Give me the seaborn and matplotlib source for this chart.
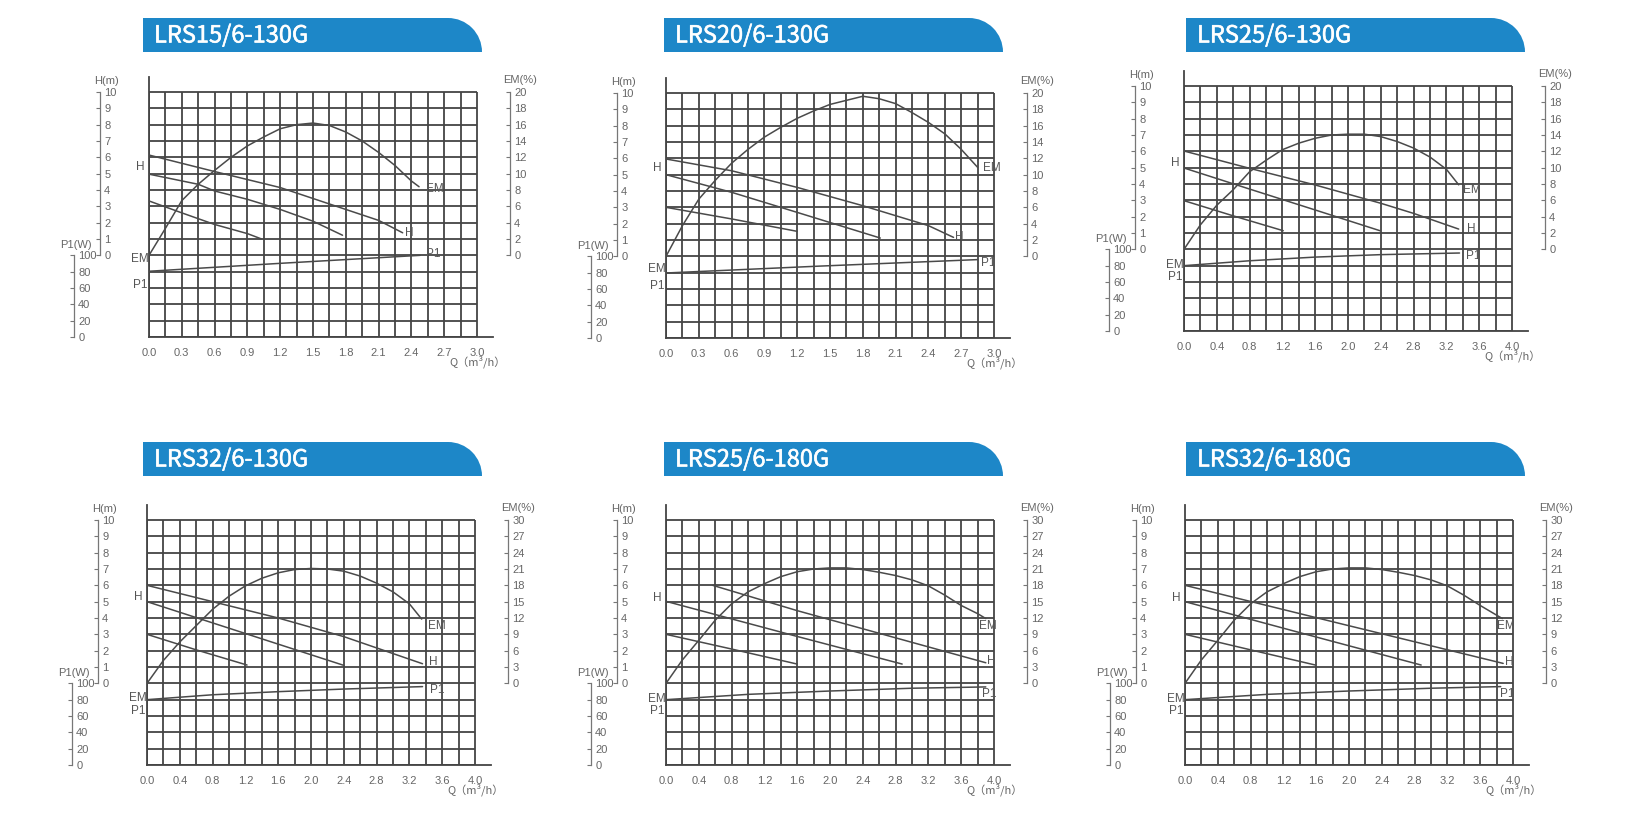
import matplotlib
matplotlib.use("Agg")
import matplotlib.pyplot as plt
import matplotlib.patheffects as pe
from matplotlib.patches import Rectangle, Wedge
import pandas as pd
import seaborn as sns

sns.set_style("white")
plt.rcParams['font.family'] = ['Liberation Sans', 'DejaVu Sans']

# ---------------- data ----------------
titles = ["LRS15/6-130G", "LRS20/6-130G", "LRS25/6-130G",
          "LRS32/6-130G", "LRS25/6-180G", "LRS32/6-180G"]
q_max = [3.0, 3.0, 4.0, 4.0, 4.0, 4.0]
em_max = [20, 20, 20, 30, 30, 30]

# LRS15/6-130G
lrs15_h = [([0, 0.6, 1.2, 1.8, 2.1, 2.32], [6.14, 5.13, 4.15, 2.81, 2.14, 1.38]),
           ([0, 0.45, 0.6, 0.9, 1.2, 1.5, 1.77], [4.97, 4.35, 3.94, 3.43, 2.81, 2.09, 1.23]),
           ([0, 0.3, 0.6, 0.9, 1.03], [3.33, 2.6, 1.89, 1.33, 1.0])]
lrs15_em_q = [0, 0.15, 0.3, 0.45, 0.6, 0.75, 0.9, 1.05, 1.2, 1.35, 1.5, 1.65,
              1.8, 1.95, 2.1, 2.25, 2.4, 2.47]
lrs15_em = [0, 3.3, 6.7, 8.7, 10.4, 12.0, 13.4, 14.5, 15.5, 16.0, 16.2, 15.9,
            15.1, 14.0, 12.6, 11.0, 9.1, 8.4]
lrs15_p1_q = [0, 1.2, 2.48]
lrs15_p1 = [80.5, 90.2, 100]

# LRS20/6-130G
lrs20_h = [([0, 0.6, 1.2, 1.8, 2.4, 2.63], [5.96, 5.24, 4.22, 3.1, 1.88, 1.16]),
           ([0, 0.6, 1.2, 1.96], [5.0, 3.92, 2.69, 1.12]),
           ([0, 0.6, 1.2], [3.0, 2.29, 1.53])]
lrs20_em_q = [0, 0.15, 0.3, 0.45, 0.6, 0.75, 0.9, 1.05, 1.2, 1.35, 1.5, 1.65,
              1.8, 1.95, 2.1, 2.25, 2.4, 2.55, 2.7, 2.85]
lrs20_em = [0, 3.75, 7.0, 9.3, 11.4, 13.1, 14.6, 15.8, 16.9, 17.8, 18.6, 19.1,
            19.6, 19.3, 18.7, 17.6, 16.4, 15.0, 13.1, 10.9]
lrs20_p1_q = [0, 1.4, 2.85]
lrs20_p1 = [79.6, 88, 96]

# LRS25/6-130G
lrs25_h = [([0, 0.8, 1.6, 2.4, 2.8, 3.35], [6.02, 4.96, 3.94, 2.82, 2.2, 1.24]),
           ([0, 0.8, 1.6, 2.39], [4.98, 3.69, 2.41, 1.14]),
           ([0, 0.6, 1.21], [2.98, 2.05, 1.14])]
lrs25_em_q = [0, 0.2, 0.4, 0.6, 0.8, 1.0, 1.2, 1.4, 1.6, 1.8, 2.0, 2.2,
              2.4, 2.6, 2.8, 3.0, 3.2, 3.35]
lrs25_em = [0, 3.0, 5.4, 7.3, 9.5, 10.9, 12.2, 13.0, 13.6, 14.0, 14.1, 14.1,
            13.8, 13.2, 12.4, 11.3, 9.8, 7.9]
lrs25_p1_q = [0, 0.8, 1.6, 2.4, 3.36]
lrs25_p1 = [80, 86, 90.5, 93.5, 95.5]

# LRS32/6-130G
lrs32_h = [([0, 0.8, 1.6, 2.4, 3.36], [6.0, 5.0, 4.0, 2.86, 1.2]),
           ([0, 0.8, 1.6, 2.4], [5.0, 3.7, 2.4, 1.1]),
           ([0, 0.6, 1.22], [3.0, 2.05, 1.12])]
lrs32_em_q = [0, 0.2, 0.4, 0.6, 0.8, 1.0, 1.2, 1.4, 1.6, 1.8, 2.0, 2.2,
              2.4, 2.6, 2.8, 3.0, 3.2, 3.35]
lrs32_em = [0, 4.2, 7.6, 10.6, 13.6, 16.0, 17.9, 19.3, 20.3, 20.9, 21.1, 21.0,
            20.6, 19.7, 18.4, 16.8, 14.6, 11.8]
lrs32_p1_q = [0, 0.8, 1.6, 2.4, 3.36]
lrs32_p1 = [80, 86, 89.8, 93, 96]

# LRS25/6-180G
lrs25b_h = [([0.57, 1.6, 3.9], [6.0, 4.45, 1.26]),
            ([0, 1.6, 2.88], [5.02, 2.87, 1.18]),
            ([0, 0.8, 1.6], [3.0, 2.1, 1.18])]
lrs25b_em_q = [0, 0.2, 0.4, 0.6, 0.8, 1.0, 1.2, 1.4, 1.6, 1.8, 2.0, 2.2,
               2.4, 2.6, 2.8, 3.0, 3.2, 3.4, 3.6, 3.8, 3.9]
lrs25b_em = [0, 4.3, 7.9, 11.6, 14.6, 16.8, 18.3, 19.6, 20.5, 21.0, 21.2, 21.2,
             20.9, 20.4, 19.8, 19.0, 17.9, 16.2, 14.3, 12.8, 11.9]
lrs25b_p1_q = [0, 1.0, 2.0, 3.0, 3.9]
lrs25b_p1 = [80, 86.5, 90.6, 94, 95.6]

# LRS32/6-180G
lrs32b_h = [([0, 1.94, 3.88], [6.0, 3.6, 1.22]),
            ([0, 1.44, 2.88], [5.0, 3.05, 1.12]),
            ([0, 0.8, 1.59], [3.0, 2.05, 1.12])]
lrs32b_em_q = [0, 0.2, 0.4, 0.6, 0.8, 1.0, 1.2, 1.4, 1.6, 1.8, 2.0, 2.2,
               2.4, 2.6, 2.8, 3.0, 3.2, 3.4, 3.6, 3.87]
lrs32b_em = [0, 4.3, 7.9, 11.6, 14.6, 16.8, 18.3, 19.6, 20.5, 21.0, 21.2, 21.2,
             20.9, 20.4, 19.8, 19.0, 17.9, 16.2, 14.3, 11.9]
lrs32b_p1_q = [0, 1.0, 2.0, 3.0, 3.85]
lrs32b_p1 = [80, 86.5, 90.6, 94, 96]

h_sets = [lrs15_h, lrs20_h, lrs25_h, lrs32_h, lrs25b_h, lrs32b_h]
em_sets = [(lrs15_em_q, lrs15_em), (lrs20_em_q, lrs20_em), (lrs25_em_q, lrs25_em),
           (lrs32_em_q, lrs32_em), (lrs25b_em_q, lrs25b_em), (lrs32b_em_q, lrs32b_em)]
p1_sets = [(lrs15_p1_q, lrs15_p1), (lrs20_p1_q, lrs20_p1), (lrs25_p1_q, lrs25_p1),
           (lrs32_p1_q, lrs32_p1), (lrs25b_p1_q, lrs25b_p1), (lrs32b_p1_q, lrs32b_p1)]

# ---------------- layout (pixels) ----------------
W, H = 1633, 817
grid_lt = [(149, 92), (666, 93), (1184, 86), (147, 520), (666, 520), (1185, 520)]
GW, GH = 328, 245
bars = [(143, 18), (664, 18), (1186, 18), (143, 442), (664, 442), (1186, 442)]
BW, BH = 339, 34
# y (in H rows) of left-side curve names: H, EM, P1
left_lbl_y = [(5.4, -0.2, -1.8), (5.4, -0.75, -1.8), (5.3, -0.95, -1.7),
              (5.3, -0.92, -1.67), (5.25, -0.94, -1.7), (5.25, -0.94, -1.7)]
# pixel offsets of right-side curve names from the curve ends
right_lbl_off = [
    {"EM": (7, -2), "H": (2, 0), "P1": (6, 1)},
    {"EM": (5, -1), "H": (1, 0), "P1": (3, -3)},
    {"EM": (4, -5), "H": (8, 0), "P1": (6, -3)},
    {"EM": (6, -7), "H": (6, 2), "P1": (7, -3)},
    {"EM": (-7, -7), "H": (1, 2), "P1": (-4, -7)},
    {"EM": (-5, -7), "H": (2, 1), "P1": (-1, -7)},
]

BLUE = "#1D87C8"
LINE = "#444444"
CURVE = "#4a4a4a"
TXT = "#666666"

fig = plt.figure(figsize=(W / 100, H / 100), dpi=100)


def px_box(left, top, w, h):
    return [left / W, 1 - (top + h) / H, w / W, h / H]


for i in range(6):
    gl, gt = grid_lt[i]
    qm = q_max[i]
    em = em_max[i]
    row = GH / 15
    aw = GW * 21 / 20
    ah = GH + 0.9 * row
    ax = fig.add_axes(px_box(gl, gt - 0.9 * row, aw, ah))
    ax.set_xlim(0, qm * 21 / 20)
    ax.set_ylim(-5, 10.9)
    step = qm / 20

    # grid
    ax.hlines(range(-5, 11), 0, qm, color=LINE, lw=1.3, zorder=1)
    ax.vlines([k * step for k in range(21)], -5, 10, color=LINE, lw=1.3, zorder=1)
    for s in ["top", "right"]:
        ax.spines[s].set_visible(False)
    for s in ["left", "bottom"]:
        ax.spines[s].set_color(LINE)
        ax.spines[s].set_linewidth(1.3)

    # curves -> long frame, H rows as common y scale
    rows = []
    for k, (qs, hs) in enumerate(h_sets[i]):
        rows += [{"q": q, "y": h, "curve": f"H{k}"} for q, h in zip(qs, hs)]
    eq, ev = em_sets[i]
    rows += [{"q": q, "y": e * 10 / em, "curve": "EM"} for q, e in zip(eq, ev)]
    pq, pv = p1_sets[i]
    rows += [{"q": q, "y": p / 20 - 5, "curve": "P1"} for q, p in zip(pq, pv)]
    df = pd.DataFrame(rows)
    sns.lineplot(data=df, x="q", y="y", units="curve", estimator=None, sort=False,
                 color=CURVE, lw=1.1, ax=ax, zorder=3)

    ax.set_xlabel("")
    ax.set_ylabel("")
    ax.set_yticks([])
    ax.set_xticks([k * step * 2 for k in range(11)])
    ax.set_xticklabels([f"{k * step * 2:.1f}" for k in range(11)])
    ax.tick_params(axis="x", length=0, pad=8, labelsize=8, labelcolor=TXT)

    # H axis
    hax = ax.secondary_yaxis(-49 / aw)
    hax.set_alignment("right")
    hax.set_yticks(range(0, 11))
    hax.spines["right"].set_bounds(0, 10)
    # P1 axis
    pax = ax.secondary_yaxis(-75 / aw, functions=(lambda y: (y + 5) * 20, lambda p: p / 20 - 5))
    pax.set_alignment("right")
    pax.set_yticks(range(0, 101, 20))
    pax.spines["right"].set_bounds(0, 100)
    # EM axis
    emax = ax.secondary_yaxis((GW + 33) / aw,
                              functions=(lambda y, m=em: y * m / 10, lambda e, m=em: e * 10 / m))
    emax.set_yticks(range(0, em + 1, em // 10))
    emax.spines["right"].set_bounds(0, em)
    for a in (hax, pax, emax):
        a.spines["right"].set_color("#777777")
        a.spines["right"].set_linewidth(0.9)
        a.tick_params(direction="in", length=3, width=0.8, color="#777777",
                      labelsize=8, labelcolor=TXT, pad=3)

    ann = dict(textcoords="offset pixels", fontsize=8, color=TXT, va="center")
    ax.annotate("H(m)", xy=(0, 10), xytext=(-55, 11), ha="left", **ann)
    ax.annotate("P1(W)", xy=(0, 0), xytext=(-89, 10), ha="left", **ann)
    ax.annotate("EM(%)", xy=(qm, 10), xytext=(26, 12), ha="left", **ann)
    ax.annotate("Q（m³/h）", xy=(qm, -5), xytext=(29, -25), ha="right",
                family=["Noto Sans CJK SC", "DejaVu Sans"], **ann)

    # curve names on the left
    ly = left_lbl_y[i]
    lab = dict(textcoords="offset pixels", fontsize=8.5, color="#555555", va="center", ha="right")
    ax.annotate("H", xy=(0, ly[0]), xytext=(-4, 0), **lab)
    ax.annotate("EM", xy=(0, ly[1]), xytext=(0, 0), **lab)
    ax.annotate("P1", xy=(0, ly[2]), xytext=(-1, 0), **lab)

    # curve names at curve ends
    off = right_lbl_off[i]
    top_h = h_sets[i][0]
    ends = {"EM": (eq[-1], ev[-1] * 10 / em), "H": (top_h[0][-1], top_h[1][-1]),
            "P1": (pq[-1], pv[-1] / 20 - 5)}
    for name, (xq, yv) in ends.items():
        ax.annotate(name, xy=(xq, yv), xytext=off[name], textcoords="offset pixels",
                    fontsize=8.5, color="#555555", va="center", ha="left")

    # title bar
    bx, by = bars[i]
    tax = fig.add_axes(px_box(bx, by, BW, BH))
    tax.set_xlim(0, BW)
    tax.set_ylim(0, BH)
    tax.axis("off")
    tax.add_patch(Rectangle((0, 0), BW - BH, BH, color=BLUE, lw=0))
    tax.add_patch(Wedge((BW - BH, 0), BH, 0, 90, color=BLUE, lw=0))
    tax.text(11, BH / 2 - 1, titles[i], color="white", fontsize=17, va="center", ha="left",
             family=["Noto Sans CJK SC", "DejaVu Sans"],
             path_effects=[pe.withStroke(linewidth=0.4, foreground="white")])

fig.savefig("out.png", dpi=100)
